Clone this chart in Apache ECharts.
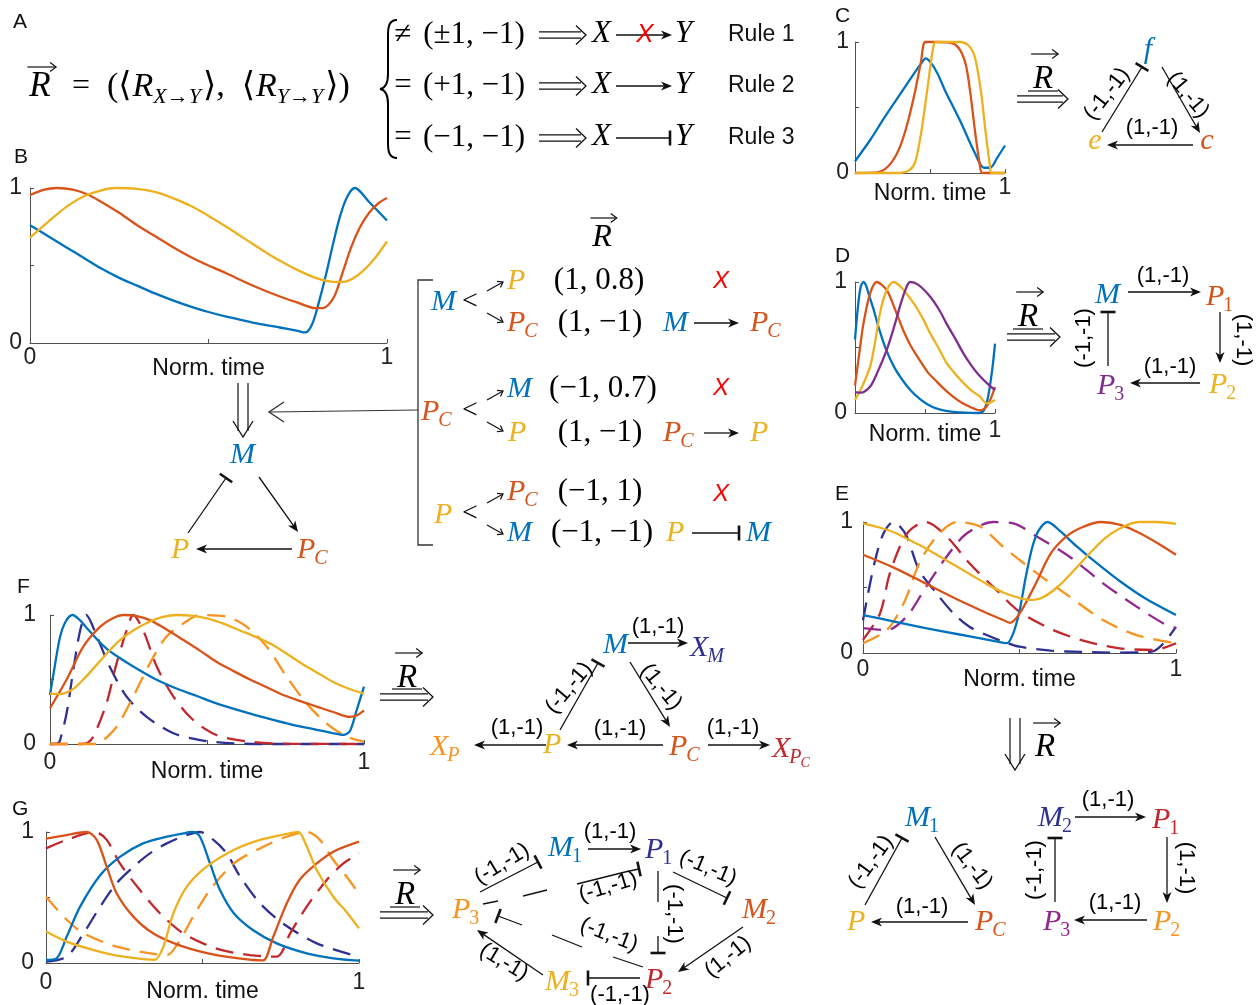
<!DOCTYPE html>
<html>
<head>
<meta charset="utf-8">
<script src="https://cdn.jsdelivr.net/npm/echarts@6/dist/echarts.min.js"></script>
<style>html,body{margin:0;background:#fff}#main{width:1260px;height:1005px}</style>
</head>
<body>
<div id="main"></div>
<script>
// ---- curve data, [norm. time, value] ----
const bBlue = [[0,0.76],[0.05,0.69],[0.1,0.62],[0.15,0.55],[0.2,0.48],[0.25,0.42],[0.3,0.37],[0.35,0.32],[0.4,0.275],[0.45,0.235],[0.5,0.2],[0.55,0.17],[0.6,0.145],[0.65,0.12],[0.7,0.1],[0.75,0.078],[0.77,0.068],[0.79,0.12],[0.81,0.27],[0.83,0.45],[0.85,0.65],[0.87,0.83],[0.89,0.95],[0.91,1.0],[0.95,0.91],[1,0.79]];
const bRed = [[0,0.955],[0.04,0.99],[0.075,1.0],[0.12,0.99],[0.16,0.96],[0.2,0.91],[0.25,0.84],[0.3,0.76],[0.35,0.69],[0.4,0.62],[0.45,0.555],[0.5,0.5],[0.55,0.45],[0.6,0.395],[0.65,0.345],[0.7,0.3],[0.75,0.26],[0.8,0.225],[0.82,0.225],[0.85,0.29],[0.875,0.45],[0.9,0.62],[0.925,0.75],[0.95,0.84],[0.975,0.9],[1,0.935]];
const bYellow = [[0,0.68],[0.05,0.78],[0.1,0.875],[0.15,0.945],[0.2,0.985],[0.24,1.0],[0.3,0.995],[0.35,0.975],[0.4,0.935],[0.45,0.885],[0.5,0.82],[0.55,0.75],[0.6,0.675],[0.65,0.6],[0.7,0.53],[0.75,0.47],[0.8,0.42],[0.85,0.395],[0.88,0.395],[0.92,0.44],[0.96,0.53],[1,0.655]];

const cBlue = [[0,0.09],[0.1,0.25],[0.2,0.43],[0.3,0.6],[0.4,0.77],[0.45,0.85],[0.47,0.875],[0.5,0.85],[0.55,0.76],[0.6,0.63],[0.7,0.4],[0.8,0.15],[0.86,0.04],[0.9,0.04],[0.95,0.12],[1,0.21]];
const cRed = [[0,0],[0.15,0.005],[0.2,0.03],[0.25,0.09],[0.3,0.2],[0.35,0.38],[0.4,0.62],[0.44,0.85],[0.47,1],[0.55,1],[0.65,0.99],[0.7,0.94],[0.74,0.82],[0.77,0.6],[0.8,0.32],[0.83,0.08],[0.85,0],[1,0]];
const cYellow = [[0,0],[0.3,0],[0.36,0.02],[0.4,0.08],[0.44,0.3],[0.48,0.62],[0.52,0.95],[0.54,1],[0.7,1],[0.76,0.97],[0.8,0.88],[0.84,0.62],[0.87,0.32],[0.9,0.05],[0.91,0],[1,0]];

const dBlue = [[0,0.56],[0.02,0.8],[0.04,0.96],[0.06,1],[0.08,0.97],[0.1,0.9],[0.13,0.8],[0.17,0.65],[0.22,0.49],[0.28,0.35],[0.34,0.25],[0.4,0.17],[0.46,0.11],[0.52,0.065],[0.58,0.035],[0.66,0.015],[0.75,0.005],[0.88,0],[0.92,0.02],[0.95,0.12],[0.98,0.33],[1,0.53]];
const dRed = [[0,0.21],[0.03,0.45],[0.06,0.68],[0.107,0.91],[0.155,1.0],[0.226,0.94],[0.29,0.78],[0.345,0.63],[0.4,0.51],[0.464,0.4],[0.52,0.31],[0.583,0.24],[0.64,0.18],[0.7,0.125],[0.76,0.08],[0.82,0.048],[0.893,0.02],[0.94,0.05],[0.97,0.11],[1,0.2]];
const dYellow = [[0,0.1],[0.05,0.2],[0.107,0.35],[0.14,0.52],[0.178,0.76],[0.22,0.92],[0.274,1.0],[0.33,0.96],[0.417,0.84],[0.48,0.73],[0.536,0.61],[0.6,0.49],[0.655,0.38],[0.715,0.3],[0.774,0.23],[0.833,0.17],[0.893,0.125],[0.94,0.074],[0.97,0.08],[1,0.1]];
const dPurple = [[0,0.16],[0.04,0.155],[0.107,0.2],[0.16,0.31],[0.226,0.48],[0.28,0.66],[0.32,0.81],[0.36,0.94],[0.393,1.0],[0.45,0.98],[0.536,0.89],[0.6,0.79],[0.655,0.68],[0.72,0.56],[0.774,0.455],[0.833,0.36],[0.893,0.28],[0.95,0.22],[1,0.175]];

const eBlue = [[0,0.29],[0.1,0.24],[0.2,0.19],[0.3,0.145],[0.4,0.1],[0.45,0.078],[0.46,0.075],[0.48,0.15],[0.5,0.32],[0.52,0.58],[0.54,0.8],[0.56,0.93],[0.59,1.0],[0.63,0.93],[0.68,0.82],[0.75,0.68],[0.82,0.55],[0.9,0.42],[1,0.29]];
const eRed = [[0,0.75],[0.1,0.65],[0.2,0.53],[0.3,0.41],[0.4,0.3],[0.45,0.25],[0.47,0.23],[0.5,0.3],[0.55,0.52],[0.6,0.76],[0.65,0.89],[0.7,0.96],[0.76,1.0],[0.82,0.98],[0.88,0.92],[0.94,0.84],[1,0.75]];
const eYellow = [[0,0.99],[0.05,0.96],[0.1,0.92],[0.15,0.86],[0.2,0.8],[0.25,0.73],[0.3,0.66],[0.35,0.59],[0.4,0.52],[0.45,0.46],[0.5,0.42],[0.53,0.405],[0.57,0.42],[0.62,0.5],[0.67,0.62],[0.72,0.75],[0.77,0.87],[0.82,0.95],[0.88,1.0],[0.94,1.0],[1,0.985]];
const eNavy = [[0,0.25],[0.02,0.5],[0.04,0.72],[0.065,0.91],[0.097,1.0],[0.12,0.96],[0.14,0.89],[0.18,0.63],[0.235,0.455],[0.29,0.3],[0.34,0.2],[0.395,0.137],[0.45,0.085],[0.5,0.048],[0.6,0.018],[0.7,0.008],[0.82,0.003],[0.9,0.005],[0.93,0.015],[0.96,0.074],[1,0.2]];
const eCrimson = [[0,0.1],[0.054,0.3],[0.086,0.61],[0.14,0.91],[0.2,1.0],[0.267,0.89],[0.34,0.685],[0.427,0.48],[0.5,0.315],[0.608,0.175],[0.715,0.087],[0.82,0.036],[0.93,0.023],[1,0.074]];
const eOrange = [[0,0.074],[0.076,0.175],[0.13,0.38],[0.18,0.685],[0.235,0.89],[0.3,1.0],[0.374,0.965],[0.448,0.81],[0.555,0.61],[0.66,0.43],[0.768,0.25],[0.874,0.137],[1,0.074]];
const eViolet = [[0,0.19],[0.076,0.175],[0.14,0.28],[0.2,0.5],[0.267,0.735],[0.33,0.91],[0.416,1.0],[0.48,0.99],[0.555,0.89],[0.66,0.735],[0.768,0.53],[0.874,0.354],[0.96,0.226],[1,0.19]];

const fBlue = [[0,0.38],[0.015,0.6],[0.032,0.83],[0.05,0.95],[0.072,1.0],[0.095,0.96],[0.117,0.9],[0.15,0.81],[0.18,0.74],[0.22,0.67],[0.265,0.6],[0.33,0.51],[0.403,0.43],[0.47,0.37],[0.53,0.315],[0.61,0.255],[0.69,0.2],[0.77,0.15],[0.85,0.11],[0.9,0.085],[0.934,0.07],[0.955,0.1],[0.975,0.25],[1,0.445]];
const fRed = [[0,0.277],[0.053,0.5],[0.106,0.755],[0.16,0.91],[0.2,0.975],[0.234,1.0],[0.28,0.99],[0.318,0.96],[0.37,0.89],[0.425,0.806],[0.48,0.72],[0.53,0.638],[0.585,0.565],[0.637,0.5],[0.69,0.44],[0.743,0.38],[0.8,0.33],[0.85,0.29],[0.9,0.25],[0.955,0.21],[0.98,0.225],[1,0.26]];
const fYellow = [[0,0.39],[0.032,0.387],[0.07,0.42],[0.106,0.5],[0.14,0.59],[0.18,0.7],[0.22,0.8],[0.265,0.88],[0.318,0.95],[0.36,0.985],[0.403,1.0],[0.45,0.995],[0.5,0.974],[0.55,0.935],[0.605,0.88],[0.66,0.825],[0.71,0.767],[0.76,0.69],[0.817,0.6],[0.86,0.54],[0.9,0.483],[0.95,0.43],[1,0.39]];
const fNavy = [[0,0],[0.025,0.005],[0.032,0.03],[0.053,0.24],[0.074,0.57],[0.096,0.88],[0.115,1.0],[0.15,0.83],[0.19,0.6],[0.244,0.367],[0.308,0.21],[0.393,0.083],[0.478,0.03],[0.584,0.005],[0.7,0],[1,0]];
const fCrimson = [[0,0],[0.1,0],[0.12,0.01],[0.138,0.057],[0.18,0.315],[0.212,0.625],[0.244,0.88],[0.265,1.0],[0.297,0.88],[0.34,0.6],[0.393,0.367],[0.456,0.186],[0.53,0.07],[0.637,0.018],[0.75,0.003],[1,0]];
const fOrange = [[0,0],[0.14,0],[0.16,0.01],[0.212,0.134],[0.265,0.367],[0.318,0.625],[0.37,0.83],[0.425,0.935],[0.478,1.0],[0.563,0.987],[0.626,0.91],[0.69,0.755],[0.754,0.52],[0.817,0.315],[0.88,0.16],[0.945,0.057],[1,0.018]];

const gBlue = [[0,0.023],[0.034,0.036],[0.066,0.2],[0.109,0.43],[0.173,0.67],[0.236,0.81],[0.31,0.913],[0.386,0.964],[0.44,0.99],[0.47,1.0],[0.492,0.964],[0.524,0.76],[0.556,0.557],[0.6,0.38],[0.662,0.25],[0.737,0.15],[0.833,0.074],[0.918,0.036],[1,0.018]];
const gRed = [[0,0.95],[0.066,0.977],[0.13,1.0],[0.162,0.94],[0.194,0.735],[0.226,0.53],[0.279,0.354],[0.343,0.226],[0.439,0.125],[0.545,0.06],[0.662,0.023],[0.694,0.02],[0.726,0.2],[0.769,0.455],[0.81,0.634],[0.865,0.76],[0.918,0.85],[1,0.926]];
const gYellow = [[0,0.24],[0.066,0.163],[0.15,0.1],[0.226,0.056],[0.32,0.028],[0.348,0.025],[0.375,0.125],[0.407,0.38],[0.45,0.583],[0.513,0.735],[0.6,0.863],[0.684,0.94],[0.769,0.985],[0.806,1.0],[0.833,0.89],[0.865,0.71],[0.918,0.506],[0.96,0.39],[1,0.265]];
const gNavy = [[0,0.01],[0.066,0.048],[0.12,0.226],[0.173,0.43],[0.226,0.61],[0.28,0.735],[0.332,0.837],[0.386,0.913],[0.45,0.977],[0.492,1.0],[0.535,0.94],[0.577,0.837],[0.62,0.66],[0.684,0.455],[0.758,0.3],[0.865,0.15],[1,0.048]];
const gCrimson = [[0,0.875],[0.066,0.94],[0.157,1.0],[0.194,0.94],[0.236,0.76],[0.3,0.557],[0.364,0.38],[0.439,0.226],[0.545,0.11],[0.652,0.06],[0.737,0.048],[0.78,0.226],[0.833,0.43],[0.897,0.634],[0.95,0.76],[1,0.837]];
const gOrange = [[0,0.506],[0.066,0.33],[0.12,0.226],[0.226,0.125],[0.332,0.074],[0.386,0.06],[0.428,0.175],[0.47,0.354],[0.524,0.557],[0.6,0.76],[0.684,0.875],[0.769,0.964],[0.833,1.0],[0.875,0.94],[0.918,0.786],[0.96,0.66],[1,0.53]];

// ---- look ----
const BLUE = '#0072BD', RED = '#D95319', YEL = '#EDB120', PUR = '#7E2F8E';
const NAVY = '#2E3192', CRIM = '#C1272D', ORA = '#F7931E', VIO = '#93278F';
const SERIF = '"Liberation Serif","DejaVu Serif",serif';
const SANS = '"Liberation Sans",Arial,sans-serif';

// panel grids: B C D E F G
const grids = [
  {left: 30, top: 188, width: 357, height: 155},
  {left: 855, top: 42, width: 150, height: 131},
  {left: 855, top: 282, width: 140, height: 131},
  {left: 863, top: 522, width: 313, height: 131},
  {left: 50, top: 615, width: 314, height: 129},
  {left: 46, top: 832, width: 313, height: 131}
];
const nameGaps = [14, 9, 10, 15, 16, 17];
const xMargins = [3, 3, 6, 5, 7, 8];
const yMargins = [8, 6, 8, 10, 14, 12];
const showX0 = [true, false, false, true, true, true];

const AX = '#505050';
function xAx(i) {
  return {
    gridIndex: i, type: 'value', min: 0, max: 1, interval: 0.5,
    axisLine: {show: true, lineStyle: {color: AX, width: 1}},
    axisTick: {show: true, inside: true, length: 4, lineStyle: {color: AX}},
    splitLine: {show: false},
    axisLabel: {fontSize: 23, color: '#222', fontFamily: SANS, margin: xMargins[i],
      formatter: v => (v === 1 || (v === 0 && showX0[i])) ? String(v) : ''},
    name: 'Norm. time', nameLocation: 'middle', nameGap: nameGaps[i], nameMoveOverlap: false,
    nameTextStyle: {fontSize: 23, color: '#111', fontFamily: SANS}
  };
}
function yAx(i) {
  return {
    gridIndex: i, type: 'value', min: 0, max: 1, interval: 0.5,
    axisLine: {show: true, lineStyle: {color: AX, width: 1}},
    axisTick: {show: true, inside: true, length: 4, lineStyle: {color: AX}},
    splitLine: {show: false},
    axisLabel: {fontSize: 23, color: '#222', fontFamily: SANS, margin: yMargins[i],
      formatter: v => (v === 0 || v === 1) ? String(v) : ''}
  };
}
function line(gi, data, color, dashed) {
  return {type: 'line', xAxisIndex: gi, yAxisIndex: gi, data: data, showSymbol: false,
    smooth: 0.3, clip: false, silent: true, z: dashed ? 2 : 3,
    lineStyle: {color: color, width: 2.3, type: dashed ? [18, 10] : 'solid'}};
}

const series = [
  line(0, bBlue, BLUE), line(0, bRed, RED), line(0, bYellow, YEL),
  line(1, cBlue, BLUE), line(1, cRed, RED), line(1, cYellow, YEL),
  line(2, dBlue, BLUE), line(2, dRed, RED), line(2, dYellow, YEL), line(2, dPurple, PUR),
  line(3, eNavy, NAVY, true), line(3, eCrimson, CRIM, true), line(3, eOrange, ORA, true), line(3, eViolet, VIO, true),
  line(3, eBlue, BLUE), line(3, eRed, RED), line(3, eYellow, YEL),
  line(4, fNavy, NAVY, true), line(4, fCrimson, CRIM, true), line(4, fOrange, ORA, true),
  line(4, fBlue, BLUE), line(4, fRed, RED), line(4, fYellow, YEL),
  line(5, gNavy, NAVY, true), line(5, gCrimson, CRIM, true), line(5, gOrange, ORA, true),
  line(5, gBlue, BLUE), line(5, gRed, RED), line(5, gYellow, YEL)
];

// ---- drawing helpers for the diagrams ----
const g = [];
const mctx = document.createElement('canvas').getContext('2d');
function fnt(size, it, fam) { return (it ? 'italic ' : '') + size + 'px ' + fam; }
function tw(s, f) { mctx.font = f; return mctx.measureText(s).width; }
function txt(x, y, s, o) {
  o = o || {};
  const f = fnt(o.size || 22, o.it, o.fam || SANS);
  g.push({type: 'text', x: x, y: y, rotation: (o.rot || 0) * Math.PI / 180, z: 50,
    style: {text: s, font: f, fill: o.color || '#000', textAlign: o.align || 'center',
      textVerticalAlign: 'middle', align: o.align || 'center', verticalAlign: 'middle'}});
  return tw(s, f);
}
function seq(x, y, parts) {
  let cx = x;
  parts.forEach(p => {
    cx += txt(cx, y + (p.dy || 0), p.t, {size: p.size || 30, it: p.it, fam: p.fam || SERIF, color: p.color, align: 'left'}) + (p.gap || 0);
  });
  return cx;
}
function node(x, y, main, sub, color, size) {
  size = size || 30;
  const w = txt(x, y, main, {size: size, it: true, fam: SERIF, color: color, align: 'left'});
  if (sub) txt(x + w - 1, y + size * 0.3, sub, {size: Math.round(size * 0.68), it: !/\d/.test(sub), fam: SERIF, color: color, align: 'left'});
}
function lbl(x, y, s, rot) { txt(x, y, s, {size: 22, rot: rot || 0}); }
function seg(x1, y1, x2, y2, o) {
  o = o || {};
  g.push({type: 'line', z: 40, shape: {x1: x1, y1: y1, x2: x2, y2: y2},
    style: {stroke: o.color || '#111', lineWidth: o.w || 1.3}});
}
function curve(x1, y1, c1x, c1y, c2x, c2y, x2, y2, w) {
  g.push({type: 'bezierCurve', z: 40, shape: {x1: x1, y1: y1, cpx1: c1x, cpy1: c1y, cpx2: c2x, cpy2: c2y, x2: x2, y2: y2},
    style: {stroke: '#000', lineWidth: w || 2, fill: null}});
}
function poly(pts, o) {
  o = o || {};
  g.push({type: 'polyline', z: 40, shape: {points: pts}, style: {stroke: o.color || '#111', lineWidth: o.w || 1.3, fill: null}});
}
function head(x, y, a) {
  const L = 11, W = 4.5, c = Math.cos(a), s = Math.sin(a);
  const bx = x - L * c, by = y - L * s;
  g.push({type: 'polygon', z: 41, shape: {points: [[x, y], [bx - W * s, by + W * c], [x - L * 0.72 * c, y - L * 0.72 * s], [bx + W * s, by - W * c]]},
    style: {fill: '#111'}});
}
function arrow(x1, y1, x2, y2) {
  const a = Math.atan2(y2 - y1, x2 - x1);
  seg(x1, y1, x2 - 6 * Math.cos(a), y2 - 6 * Math.sin(a));
  head(x2, y2, a);
}
function bar(x, y, a, h) {
  h = h || 7.5;
  seg(x - h * Math.sin(a), y + h * Math.cos(a), x + h * Math.sin(a), y - h * Math.cos(a), {w: 2.6});
}
function inhib(x1, y1, x2, y2) {
  seg(x1, y1, x2, y2);
  bar(x2, y2, Math.atan2(y2 - y1, x2 - x1));
}
function openArrow(x1, y1, x2, y2, L, w) {
  const a = Math.atan2(y2 - y1, x2 - x1), k = 0.62;
  seg(x1, y1, x2, y2, {w: w || 1.2});
  poly([[x2 - L * Math.cos(a - k), y2 - L * Math.sin(a - k)], [x2, y2], [x2 - L * Math.cos(a + k), y2 - L * Math.sin(a + k)]], {w: w || 1.2});
}
function dbl(x1, x2, y) {
  seg(x1, y - 3.2, x2 - 5, y - 3.2, {w: 1.2});
  seg(x1, y + 3.2, x2 - 5, y + 3.2, {w: 1.2});
  poly([[x2 - 10, y - 9.5], [x2, y], [x2 - 10, y + 9.5]], {w: 1.3});
}
function dblDown(x, y1, y2) {
  seg(x - 5, y1, x - 5, y2 - 6, {w: 1.2});
  seg(x + 5, y1, x + 5, y2 - 6, {w: 1.2});
  poly([[x - 10, y2 - 16], [x, y2], [x + 10, y2 - 16]], {w: 1.3});
}
function vecR(x, y, size, off) {
  txt(x, y, 'R', {size: size, it: true, fam: SERIF});
  const ay = y - off, x1 = x - size * 0.36, x2 = x + size * 0.46;
  seg(x1, ay, x2, ay, {w: 1.2});
  poly([[x2 - 6, ay - 4.5], [x2, ay], [x2 - 6, ay + 4.5]], {w: 1.2});
}
function rImplies(x1, x2, rx, ry, uy, dy) {
  vecR(rx, ry, 33, 25);
  seg(rx - 15, uy, rx + 15, uy, {w: 1.2});
  dbl(x1, x2, dy);
}

// ---- panel letters ----
[['A', 13, 22], ['B', 14, 157], ['C', 835, 16], ['D', 835, 256], ['E', 835, 494], ['F', 17, 587], ['G', 12, 809]]
  .forEach(p => txt(p[1], p[2], p[0], {size: 21, align: 'left', color: '#111'}));

// ---- A ----
vecR(40, 87, 35, 20);
txt(81, 87, '=', {size: 32, fam: SERIF});
seq(107, 87, [{t: '(⟨', size: 34, gap: 1}, {t: 'R', it: true, size: 34}, {t: 'X→Y', it: true, size: 22, dy: 10, gap: 2},
  {t: '⟩,  ⟨', size: 34, gap: 1}, {t: 'R', it: true, size: 34}, {t: 'Y→Y', it: true, size: 22, dy: 10, gap: 2}, {t: '⟩)', size: 34}]);
// big left brace
curve(397, 20, 389, 20, 388, 27, 388, 35);
seg(388, 35, 388, 74, {w: 2, color: '#000'});
curve(388, 74, 388, 82, 386, 88, 380, 89);
curve(380, 89, 386, 90, 388, 96, 388, 104);
seg(388, 104, 388, 143, {w: 2, color: '#000'});
curve(388, 143, 388, 151, 389, 158, 397, 158);
const ruleRel = ['≠', '=', '='];
const ruleVal = ['(±1, −1)', '(+1, −1)', '(−1, −1)'];
const ruleName = ['Rule 1', 'Rule 2', 'Rule 3'];
const ruleY = [35, 86, 138];
ruleY.forEach((y, i) => {
  txt(403, y, ruleRel[i], {size: 31, fam: SERIF});
  txt(474, y, ruleVal[i], {size: 31, fam: SERIF});
  dbl(539, 586, y);
  node(592, y - 1, 'X', null, '#000', 31);
  if (i === 2) inhib(616, y, 670, y); else arrow(616, y, 672, y);
  if (i === 0) txt(645, y, 'X', {size: 26, it: true, color: '#ff0000'});
  node(675, y - 1, 'Y', null, '#000', 31);
  txt(728, y, ruleName[i], {size: 23, align: 'left', color: '#111'});
});

// ---- B: reduced network below the plot ----
dblDown(243, 383, 437);
node(230, 455, 'M', null, BLUE);
inhib(188, 533, 226, 478);
arrow(259, 477, 298, 532);
arrow(292, 549, 196, 549);
node(171, 550, 'P', null, YEL);
node(297, 550, 'P', 'C', RED);

// ---- B: rule tree ----
vecR(602, 238, 32, 20);
poly([[433, 280], [418, 280], [418, 545], [433, 545]], {color: '#333', w: 1.3});
seg(418, 410, 270, 412, {color: '#333', w: 1.2});
poly([[284, 402], [269, 412], [284, 422]], {color: '#333', w: 1.4});
node(431, 302, 'M', null, BLUE);
node(421, 412, 'P', 'C', RED);
node(434, 515, 'P', null, YEL);
[302, 411, 514].forEach(y => {
  txt(470, y, '<', {size: 28, fam: SERIF});
  openArrow(487, y - 11, 503, y - 20, 6);
  openArrow(487, y + 11, 503, y + 20, 6);
});
node(507, 281, 'P', null, YEL);
node(507, 323, 'P', 'C', RED);
node(507, 389, 'M', null, BLUE);
node(508, 433, 'P', null, YEL);
node(507, 492, 'P', 'C', RED);
node(507, 533, 'M', null, BLUE);
const treeVals = ['(1, 0.8)', '(1, −1)', '(−1, 0.7)', '(1, −1)', '(−1, 1)', '(−1, −1)'];
const treeY = [281, 323, 389, 433, 492, 533];
const treeX = [599, 600, 603, 600, 600, 602];
treeVals.forEach((s, i) => txt(treeX[i], treeY[i], s, {size: 31, fam: SERIF}));
[281, 388, 494].forEach(y => txt(721, y, 'X', {size: 24, it: true, color: '#ff0000'}));
node(663, 323, 'M', null, BLUE); arrow(694, 323, 739, 323); node(750, 323, 'P', 'C', RED);
node(663, 433, 'P', 'C', RED); arrow(704, 433, 739, 433); node(750, 433, 'P', null, YEL);
node(666, 533, 'P', null, YEL); inhib(692, 533, 739, 533); node(746, 533, 'M', null, BLUE);

// ---- C ----
rImplies(1017, 1068, 1043, 79, 91, 99);
txt(1148, 50, 'f', {size: 30, it: true, fam: SERIF, color: BLUE});
txt(1095, 141, 'e', {size: 30, it: true, fam: SERIF, color: YEL});
txt(1207, 141, 'c', {size: 30, it: true, fam: SERIF, color: RED});
inhib(1102, 132, 1142, 67);
arrow(1162, 67, 1200, 133);
arrow(1193, 145, 1107, 145);
lbl(1152, 128, '(1,-1)');
lbl(1107, 94, '(-1,-1)', 52);
lbl(1188, 95, '(1,-1)', -50);

// ---- D ----
rImplies(1007, 1060, 1028, 317, 329, 337);
node(1095, 295, 'M', null, BLUE);
node(1206, 297, 'P', '1', RED);
node(1209, 385, 'P', '2', YEL);
node(1097, 386, 'P', '3', PUR);
arrow(1128, 292, 1201, 292); lbl(1163, 276, '(1,-1)');
arrow(1220, 312, 1220, 363); lbl(1243, 340, '(1,-1)', -90);
arrow(1200, 383, 1130, 383); lbl(1170, 367, '(1,-1)');
inhib(1108, 366, 1108, 312); lbl(1084, 338, '(-1,-1)', 90);

// ---- E: reduced networks ----
dblDown(1015, 718, 770);
vecR(1045, 747, 33, 24);
node(905, 818, 'M', '1', BLUE);
node(847, 922, 'P', null, YEL);
node(975, 922, 'P', 'C', RED);
inhib(865, 905, 902, 838);
arrow(935, 837, 975, 905);
arrow(968, 922, 871, 922);
lbl(871, 862, '(-1,-1)', 54);
lbl(972, 866, '(1,-1)', -53);
lbl(922, 907, '(1,-1)');
node(1038, 818, 'M', '2', NAVY);
node(1152, 820, 'P', '1', CRIM);
node(1153, 922, 'P', '2', ORA);
node(1043, 922, 'P', '3', VIO);
arrow(1075, 817, 1146, 817); lbl(1108, 800, '(1,-1)');
arrow(1167, 837, 1167, 903); lbl(1186, 868, '(1,-1)', -90);
arrow(1147, 920, 1074, 920); lbl(1115, 903, '(1,-1)');
inhib(1055, 902, 1055, 838); lbl(1035, 870, '(-1,-1)', 90);

// ---- F ----
rImplies(380, 433, 407, 678, 689, 697);
node(603, 645, 'M', null, BLUE);
node(690, 648, 'X', 'M', NAVY);
node(543, 745, 'P', null, YEL);
node(669, 747, 'P', 'C', RED);
node(430, 747, 'X', 'P', ORA);
(function () {
  const w = txt(772, 749, 'X', {size: 30, it: true, fam: SERIF, color: CRIM, align: 'left'});
  const w2 = txt(772 + w - 1, 758, 'P', {size: 20, it: true, fam: SERIF, color: CRIM, align: 'left'});
  txt(772 + w + w2 - 2, 763, 'C', {size: 14, it: true, fam: SERIF, color: CRIM, align: 'left'});
})();
arrow(628, 643, 688, 643); lbl(658, 627, '(1,-1)');
inhib(560, 730, 598, 663);
arrow(630, 662, 670, 727);
arrow(663, 745, 567, 745); lbl(620, 729, '(1,-1)');
arrow(546, 745, 474, 745); lbl(517, 728, '(1,-1)');
arrow(708, 745, 770, 745); lbl(733, 728, '(1,-1)');
lbl(569, 688, '(-1,-1)', 50);
lbl(661, 687, '(1,-1)', -51);

// ---- G ----
rImplies(380, 433, 405, 895, 907, 915);
node(548, 848, 'M', '1', BLUE);
node(645, 850, 'P', '1', NAVY);
node(742, 910, 'M', '2', RED);
node(645, 980, 'P', '2', CRIM);
node(545, 982, 'M', '3', YEL);
node(452, 910, 'P', '3', ORA);
inhib(480, 892, 538, 862); lbl(502, 864, '(-1,-1)', 31);
arrow(588, 849, 641, 849); lbl(610, 832, '(1,-1)');
inhib(673, 872, 727, 898); lbl(708, 868, '(-1,-1)', -23);
arrow(743, 927, 678, 972); lbl(728, 957, '(1,-1)', 39);
inhib(640, 978, 588, 978); lbl(620, 995, '(-1,-1)');
arrow(543, 975, 477, 930); lbl(504, 962, '(1,-1)', -31);
seg(658, 871, 658, 902); inhib(658, 936, 658, 953); lbl(674, 914, '(-1,-1)', -90);
// long cross links, broken where they pass the labels
seg(625, 872, 577, 884); seg(547, 890, 523, 896); seg(498, 901, 483, 904);
seg(625, 872, 639, 869); bar(639, 869, Math.atan2(-3, 14));
lbl(608, 887, '(-1,-1)', 17);
seg(643, 967, 613, 957); seg(582, 947, 552, 935); seg(522, 925, 498, 916);
bar(498, 916, Math.atan2(-9, -24));
lbl(609, 935, '(-1,-1)', -21);

// ---- chart ----
const chart = echarts.init(document.getElementById('main'));
chart.setOption({
  animation: false,
  backgroundColor: '#fff',
  textStyle: {fontFamily: SANS},
  grid: grids,
  xAxis: grids.map((_, i) => xAx(i)),
  yAxis: grids.map((_, i) => yAx(i)),
  series: series,
  graphic: {elements: g}
});
</script>
</body>
</html>
